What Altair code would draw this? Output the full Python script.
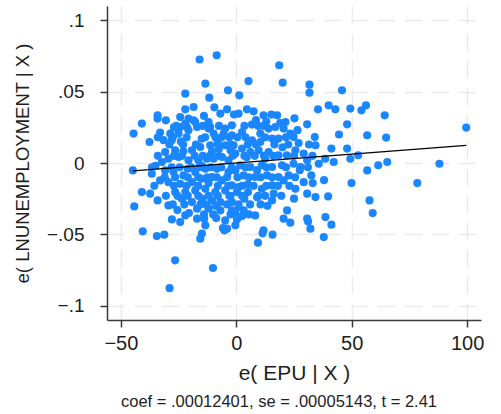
import altair as alt
import pandas as pd

# Partial-regression residuals: e(EPU | X) on the x axis, e(LNUNEMPLOYMENT | X) on the y axis
epu_resid = [
    -15.9, -8.5, -13.4, -22.1, -11.7, -3.6, -9.5, -22.1, -18.5, -34.1, -6.9, -4.0,
    18.6, 5.3, 20.1, 31.7, 31.7, 45.8, 1.3, 1.0, 4.6, 7.5, 11.8, 15.2, 17.7,
    35.4, 40.0, 42.9, 49.4, 54.2, 56.2, 64.3, 48.0, 56.7, 64.9, 99.6, 48.0, 49.4,
    52.8, 61.5, 65.4, 56.7, 88.0, 49.9, 78.4, 57.7, 59.1, 30.7, 34.0, 34.3, 41.2,
    42.2, 25.2, 32.5, 33.1, 25.6, 30.7, 34.3, 39.8, 22.0, 20.5, 8.2, 1.0, 3.2,
    -0.4, -1.9, 5.1, 15.5, 30.7, 38.6, -4.0, -0.4, 0.3, 2.5, 11.8, 11.4, 15.7,
    9.4, 23.4, 31.1, 32.1, 41.2, 37.9, -40.5, -34.4, -31.2, -26.5, -28.9, -10.1,
    -15.6, -14.9, -27.9, -24.3, -22.1, -17.0, -13.9, -8.7, -5.8, -5.2, -13.4,
    -40.9, -44.5, -37.6, -34.1, -44.8, -40.9, -37.3, -34.1, -44.2, -36.6, -30.5,
    -33.0, -28.6, -25.0, -22.1, -18.5, -12.0, -29.4, -24.3, -21.4, -5.5, -11.3,
    -20.7, -17.8, -24.3, -20.7, -17.0, -12.0, -9.8, -4.8, -1.9, -6.2, -1.9, -11.3,
    -4.8, -1.2, -0.4, -30.8, -26.5, -22.9, -19.2, -29.4, -25.0, -20.7, -16.4,
    -12.7, -9.8, -6.2, -3.4, -32.2, -30.8, -27.2, -22.9, -17.8, -13.4, -8.4, -3.4,
    -0.4, -33.0, -29.4, -24.3, -19.2, -14.9, -10.5, -6.2, -1.9, -26.5, -22.1,
    -17.8, -13.4, -9.1, -4.8, 0.3, -23.6, -19.2, -14.9, -10.5, -6.9, -1.9, -17.0,
    -12.0, -6.9, -4.8, 21.3, 6.8, 2.5, 10.4, 14.0, 16.9, 20.5, 23.4, 6.8, 10.4,
    15.5, 18.3, 24.8, 25.6, 29.2, 2.5, 6.1, 9.7, 14.0, 18.3, 21.9, 30.7, 35.7, 1.7,
    6.1, 11.1, 15.5, 19.8, 24.8, 27.8, 3.2, 8.2, 13.3, 18.3, 22.7, 11.1, 15.5,
    20.5, 29.2, 1.0, 16.2, -15.6,
    -28.0, -24.0, -15.0, -8.0, -2.5, 4.5, 12.5, 20.0, 27.0, 8.5, 13.0, 19.0, 26.5,
    -27.0, -35.0, -21.0, -10.5, 3.5, 9.0, 13.5, 25.0, -7.5, -15.0, -25.5, -20.5,
    -9.0, -3.0, 5.0, 27.5, 38.5, -1.0, -14.0, 9.0, -12.0, -31.5, 44.5, 38.0,
    # dense centre of the cloud
    -26.0, -14.5, -7.5, 3.5, 9.5, 12.0,
    -34.0, -27.5, -21.5, -13.5, -9.0, -3.0, 0.5, 4.0, 12.5, 21.5,
    -29.0, -23.0, -17.5, -8.0, -2.5, 5.0, 8.5, 16.5, 22.5, 31.5,
    -34.0, -27.0, -23.5, -18.0, -14.5, -11.5, -7.5, -1.5, 3.5, 8.0, 12.0, 16.0, 25.0, 33.0,
    -36.5, -28.0, -24.5, -19.5, -16.0, -11.0, -6.5, -2.0, 4.0, 13.0, 21.5, 31.0,
    -31.0, -26.5, -21.0, -16.5, -12.5, -8.5, -4.0, 0.5, 5.5, 10.5, 15.5, 25.5,
    -35.5, -27.0, -21.5, -16.5, -8.0, -3.5, 2.5, 7.5, 13.0, 18.0, 23.0,
    -30.5, -25.5, -21.0, -16.5, -12.0, -8.0, -2.5, 2.5, 9.5, 12.5, 19.5,
    -27.5, -22.5, -15.5, -13.0, -4.0, 1.0, 6.0, 10.5,
    -14.0, -10.0, -2.5, 5.5,
]
unemp_resid = [
    0.0725, 0.0755, 0.0556, 0.0486, 0.0458, 0.0509, 0.0390, 0.0376, 0.0392, 0.0334, 0.0346, 0.0376,
    0.0685, 0.0574, 0.0563, 0.0549, 0.0493, 0.0509, 0.0474, 0.0346, 0.0376, 0.0362, 0.0334, 0.0339, 0.0334,
    0.0376, 0.0404, 0.0376, 0.0381, 0.0369, 0.0404, 0.0334, 0.0271, 0.0194, 0.0178, 0.0248, 0.0101, 0.0030,
    0.0054, -0.0016, 0.0007, -0.0052, -0.0005, -0.0141, -0.0141, -0.0262, -0.0351, 0.0271, 0.0182, 0.0124, 0.0101,
    0.0007, 0.0313, -0.0087, -0.0141, -0.0180, -0.0215, -0.0239, -0.0234, -0.0332, -0.0390, -0.0367, -0.0309, -0.0332,
    -0.0355, -0.0332, -0.0204, -0.0262, -0.0390, -0.0379, -0.0460, -0.0437, -0.0395, -0.0372, -0.0472, -0.0493, -0.0502,
    -0.0558, -0.0418, -0.0409, -0.0460, -0.0432, -0.0519, -0.0479, -0.0512, -0.0502, -0.0682, -0.0877, -0.0736,
    -0.0530, -0.0495, -0.0395, -0.0414, -0.0367, -0.0390, -0.0390, -0.0386, -0.0456, -0.0472, -0.0437,
    0.0276, 0.0206, 0.0147, 0.0311, -0.0052, -0.0204, -0.0215, -0.0262, -0.0304, -0.0075, 0.0299,
    0.0213, 0.0206, 0.0206, 0.0276, 0.0299, 0.0287, -0.0297, 0.0322, 0.0252, 0.0206, 0.0252,
    0.0311, 0.0287, 0.0252, 0.0229, 0.0252, 0.0241, 0.0206, 0.0241, 0.0264, 0.0182, 0.0194, 0.0124,
    0.0124, 0.0124, 0.0066, 0.0077, 0.0089, 0.0082, 0.0089, 0.0030, 0.0042, 0.0019, 0.0019,
    0.0030, 0.0030, 0.0042, 0.0019, 0.0007, -0.0052, -0.0063, -0.0087, -0.0063, -0.0040, -0.0040, -0.0063,
    -0.0052, -0.0122, -0.0134, -0.0145, -0.0134, -0.0110, -0.0098, -0.0122, -0.0157, -0.0204, -0.0204,
    -0.0192, -0.0180, -0.0204, -0.0192, -0.0204, -0.0250, -0.0274, -0.0250, -0.0262, -0.0274, -0.0274, -0.0320,
    -0.0320, -0.0332, -0.0402, 0.0287, 0.0269, 0.0217, 0.0206, 0.0241, 0.0252, 0.0241, 0.0206, 0.0159, 0.0147,
    0.0171, 0.0171, 0.0182, 0.0089, 0.0066, 0.0101, 0.0077, 0.0089, 0.0077, 0.0054, 0.0054, 0.0019, -0.0005, -0.0016,
    -0.0028, -0.0016, -0.0028, -0.0016, -0.0005, -0.0028, -0.0087, -0.0098, -0.0087, -0.0098, -0.0087, -0.0180, -0.0157,
    -0.0122, -0.0134, -0.0169, -0.0215, 0.0112,
    0.0160, 0.0150, 0.0170, 0.0150, 0.0090, 0.0040, 0.0030, 0.0110, 0.0140, 0.0300, 0.0290, 0.0280, 0.0230,
    0.0250, -0.0020, -0.0040, 0.0080, -0.0250, -0.0240, -0.0300, -0.0250, 0.0100, -0.0020, -0.0330, -0.0350,
    -0.0300, -0.0230, -0.0150, -0.0050, 0.0030, 0.0340, 0.0330, -0.0050, -0.0140, 0.0160, 0.0200, -0.0120,
    # dense centre of the cloud
    0.026, 0.026, 0.026, 0.026, 0.026, 0.026,
    0.018, 0.018, 0.018, 0.018, 0.018, 0.018, 0.018, 0.018, 0.018, 0.018,
    0.013, 0.013, 0.013, 0.013, 0.013, 0.013, 0.013, 0.013, 0.013, 0.013,
    0.005, 0.005, 0.005, 0.005, 0.005, 0.005, 0.005, 0.005, 0.005, 0.005, 0.005, 0.005, 0.005, 0.005,
    -0.003, -0.003, -0.003, -0.003, -0.003, -0.003, -0.003, -0.003, -0.003, -0.003, -0.003, -0.003,
    -0.010, -0.010, -0.010, -0.010, -0.010, -0.010, -0.010, -0.010, -0.010, -0.010, -0.010, -0.010,
    -0.016, -0.016, -0.016, -0.016, -0.016, -0.016, -0.016, -0.016, -0.016, -0.016, -0.016,
    -0.023, -0.023, -0.023, -0.023, -0.023, -0.023, -0.023, -0.023, -0.023, -0.023, -0.023,
    -0.029, -0.029, -0.029, -0.029, -0.029, -0.029, -0.029, -0.029,
    -0.036, -0.036, -0.036, -0.036,
]

coef = 0.00012401
note = "coef = .00012401, se = .00005143, t = 2.41"

x_ticks = [-50, 0, 50, 100]
y_ticks = [-0.1, -0.05, 0, 0.05, 0.1]

pts = pd.DataFrame({"epu": epu_resid, "unemp": unemp_resid})
fit = pd.DataFrame({"epu": [min(epu_resid), max(epu_resid)]})
fit["unemp"] = coef * fit["epu"]

FONT = "Liberation Sans"
x_title = "e( EPU | X )"
y_title = "e( LNUNEMPLOYMENT | X )"

xscale = alt.Scale(domain=[-56, 106], nice=False, zero=False)
yscale = alt.Scale(domain=[-0.11, 0.11], nice=False, zero=False)

axis_common = dict(
    grid=True,
    gridColor="#ebebeb",
    gridDash=[18, 9],
    gridWidth=1.5,
    domainColor="#3a3a3a",
    domainWidth=1.5,
    tickColor="#3a3a3a",
    tickWidth=1.5,
    tickSize=7,
    labelFont=FONT,
    labelColor="#1e1e1e",
    titleFont=FONT,
    titleFontWeight="normal",
    titleColor="#1e1e1e",
)

x_axis = alt.Axis(
    values=x_ticks, labelFontSize=20, titleFontSize=21,
    labelPadding=6, titlePadding=9, **axis_common,
)
y_axis = alt.Axis(
    values=y_ticks, labelFontSize=19, titleFontSize=18.5,
    labelPadding=16, titlePadding=14,
    labelExpr="datum.value == 0 ? '0' : replace(format(datum.value, '~g'), '0.', '.')",
    **axis_common,
)

points = alt.Chart(pts).mark_circle(size=66, color="#1a86ff", opacity=1).encode(
    x=alt.X("epu:Q", scale=xscale, axis=x_axis, title=x_title),
    y=alt.Y("unemp:Q", scale=yscale, axis=y_axis, title=y_title),
)

fit_line = alt.Chart(fit).mark_line(color="#000000", strokeWidth=1.3).encode(
    x=alt.X("epu:Q", scale=xscale, title=x_title),
    y=alt.Y("unemp:Q", scale=yscale, title=y_title),
)

chart = (
    alt.layer(points, fit_line)
    .properties(
        width=374,
        height=314,
        autosize="none",
        padding={"left": 107, "top": 6, "right": 20, "bottom": 94},
        title=alt.TitleParams(
            text=note,
            orient="bottom",
            font=FONT,
            fontSize=16.5,
            fontWeight="normal",
            color="#1e1e1e",
            offset=11,
            dx=-15,
        ),
    )
    .configure_view(stroke=None)
)

chart.save("out.html", embed_options={"renderer": "svg", "actions": False})
